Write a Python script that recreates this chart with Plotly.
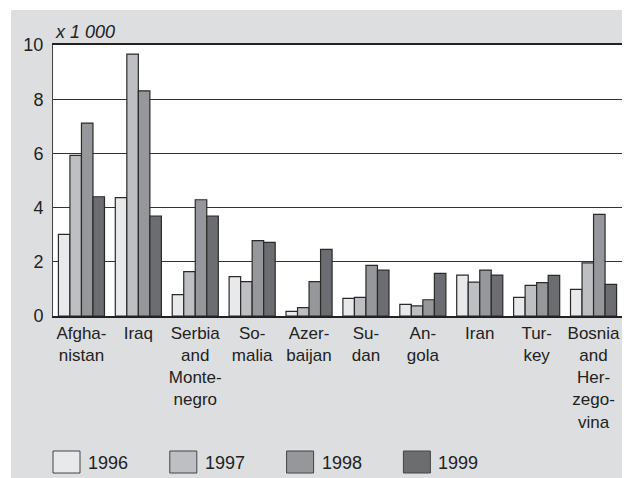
import plotly.graph_objects as go

# Refugee numbers (thousands) by country of origin
COUNTRIES = ["Afghanistan", "Iraq", "Serbia and Montenegro", "Somalia", "Azerbaijan",
             "Sudan", "Angola", "Iran", "Turkey", "Bosnia and Herzegovina"]
TICK_LABELS = ["Afgha-<br>nistan", "Iraq", "Serbia<br>and<br>Monte-<br>negro", "So-<br>malia",
               "Azer-<br>baijan", "Su-<br>dan", "An-<br>gola", "Iran", "Tur-<br>key",
               "Bosnia<br>and<br>Her-<br>zego-<br>vina"]
YEARS = ["1996", "1997", "1998", "1999"]

V1996 = [3.01, 4.37, 0.79, 1.45, 0.17, 0.65, 0.43, 1.51, 0.69, 0.98]
V1997 = [5.93, 9.66, 1.64, 1.27, 0.31, 0.69, 0.37, 1.25, 1.13, 1.96]
V1998 = [7.12, 8.31, 4.29, 2.78, 1.27, 1.87, 0.60, 1.69, 1.23, 3.75]
V1999 = [4.40, 3.69, 3.69, 2.72, 2.46, 1.69, 1.57, 1.51, 1.50, 1.17]
SERIES = [V1996, V1997, V1998, V1999]

COLORS = ["#e8e9eb", "#bebfc3", "#96979b", "#6c6d71"]
BG = "#dddee0"
FONT = "Liberation Sans, Arial, sans-serif"

fig = go.Figure()
for year, vals, col in zip(YEARS, SERIES, COLORS):
    fig.add_trace(go.Bar(
        x=COUNTRIES, y=vals, name=year,
        marker=dict(color=col, line=dict(color="#2a2a2a", width=1.2)),
        showlegend=False,
    ))

# page coords (the page body adds an 8px white margin): plot area 53..622 x 45..316
PW, PH, PL, PB = 569.0, 271.0, 53.0, 316.0
def px_x(x):
    return (x - PL) / PW
def px_y(y):
    return (PB - y) / PH

shapes = [
    # thin white strips so the grey panel starts at (11, 10)
    dict(type="rect", xref="paper", yref="paper", x0=-0.2, x1=1.2,
         y0=px_y(10), y1=px_y(-20), fillcolor="white", line=dict(width=0)),
    dict(type="rect", xref="paper", yref="paper", x0=px_x(-20), x1=px_x(11),
         y0=px_y(500), y1=px_y(-20), fillcolor="white", line=dict(width=0)),
]
annotations = [
    dict(text="<i>x 1 000</i>", xref="paper", yref="paper", x=0, y=1,
         xanchor="left", yanchor="bottom", showarrow=False, yshift=1,
         font=dict(size=18, color="#222222", family=FONT)),
]

# custom legend with larger swatches
for i, (year, col) in enumerate(zip(YEARS, COLORS)):
    left = 53 + i * 116.8
    shapes.append(dict(type="rect", xref="paper", yref="paper",
                       x0=px_x(left), x1=px_x(left + 27),
                       y0=px_y(473), y1=px_y(451),
                       fillcolor=col, line=dict(color="#444444", width=1)))
    annotations.append(dict(text=year, xref="paper", yref="paper",
                            x=px_x(left + 33), y=px_y(463), xanchor="left",
                            yanchor="middle", showarrow=False,
                            font=dict(size=18, color="#222222", family=FONT)))

fig.update_layout(
    width=622, height=470,
    margin=dict(l=45, r=8, t=37, b=162),
    paper_bgcolor=BG, plot_bgcolor="white",
    barmode="group", bargap=0.19, bargroupgap=0,
    font=dict(family=FONT, size=17, color="#222222"),
    shapes=shapes, annotations=annotations,
    xaxis=dict(tickmode="array", tickvals=COUNTRIES, ticktext=TICK_LABELS,
               showline=True, linecolor="#222222", linewidth=1.5, mirror=True,
               ticks="outside", ticklen=1, tickcolor=BG, showgrid=False,
               tickfont=dict(size=17)),
    yaxis=dict(range=[0, 10], dtick=2, showgrid=True, gridcolor="#333333",
               gridwidth=1.2, showline=True, linecolor="#444444", linewidth=1,
               mirror=True, zeroline=False, ticks="outside", ticklen=5,
               tickcolor=BG, tickfont=dict(size=18)),
)

fig.write_html("out.html")
